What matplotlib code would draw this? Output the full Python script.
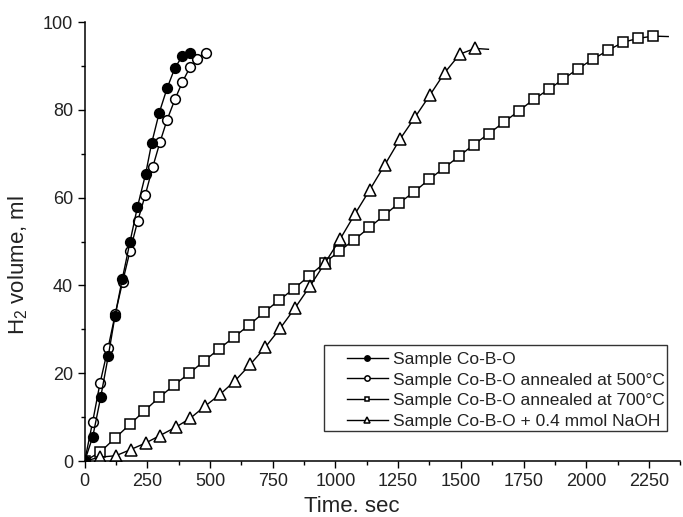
import matplotlib
matplotlib.use("Agg")
import matplotlib.pyplot as plt
from matplotlib.ticker import MultipleLocator
from matplotlib.patches import Rectangle

plt.rcParams['font.family'] = ['Liberation Sans', 'DejaVu Sans']
plt.rcParams['mathtext.fontset'] = 'custom'
plt.rcParams['mathtext.rm'] = 'Liberation Sans'
plt.rcParams['mathtext.it'] = 'Liberation Sans:italic'

# Sample Co-B-O (filled circles)
t_cobo = [0, 32, 64, 94, 121, 150, 181, 210, 243, 267, 297, 329, 360, 390, 420]
v_cobo = [0, 5.5, 14.6, 23.9, 33.1, 41.5, 50.0, 57.8, 65.4, 72.4, 79.3, 85.0, 89.6, 92.3, 93.0]

# annealed at 500 C (open circles), last point is the line tail only
t_500 = [0, 32, 61, 93, 122, 151, 181, 211, 242, 271, 300, 329, 360, 390, 420, 449, 482, 502]
v_500 = [0, 9.0, 17.7, 25.7, 33.5, 40.8, 47.9, 54.6, 60.7, 66.9, 72.6, 77.8, 82.4, 86.4, 89.7, 91.7, 92.9, 93.0]

# annealed at 700 C (squares), last point is the line tail only
t_700 = [0, 61, 121, 181, 238, 297, 357, 417, 477, 537, 597, 656, 716, 776, 836, 895, 958,
         1015, 1075, 1135, 1195, 1254, 1314, 1374, 1434, 1494, 1552, 1612, 1672, 1732, 1791,
         1851, 1908, 1968, 2028, 2088, 2147, 2207, 2267, 2327]
v_700 = [0, 2.0, 5.2, 8.4, 11.4, 14.5, 17.3, 20.0, 22.8, 25.6, 28.3, 31.0, 33.9, 36.7, 39.3,
         42.2, 45.2, 47.8, 50.4, 53.2, 56.0, 58.8, 61.3, 64.2, 66.8, 69.5, 72.1, 74.6, 77.2,
         79.8, 82.4, 84.7, 87.0, 89.4, 91.6, 93.6, 95.4, 96.3, 96.8, 96.7]

# + 0.4 mmol NaOH (triangles), last point is the line tail only
t_naoh = [0, 63, 124, 183, 243, 300, 363, 420, 480, 540, 600, 660, 720, 779, 838, 898, 958,
          1018, 1078, 1137, 1197, 1257, 1317, 1377, 1436, 1496, 1556, 1610]
v_naoh = [0, 0.9, 1.2, 2.6, 4.1, 5.8, 7.7, 9.7, 12.5, 15.2, 18.3, 22.0, 25.9, 30.2, 34.8,
          39.8, 45.1, 50.5, 56.3, 61.8, 67.5, 73.3, 78.3, 83.4, 88.5, 92.7, 94.0, 93.8]

labels = ["Sample Co-B-O",
          "Sample Co-B-O annealed at 500\u00b0C",
          "Sample Co-B-O annealed at 700\u00b0C",
          "Sample Co-B-O + 0.4 mmol NaOH"]

fig = plt.figure(figsize=(6.83, 5.17), dpi=100)
ax = fig.add_axes([0.124, 0.1083, 0.872, 0.849])

lw = 1.0
mew = 1.1
ax.plot(t_cobo, v_cobo, '-o', color='black', mfc='black', ms=7, lw=lw, mew=mew,
        label=labels[0], zorder=4)
ax.plot(t_500, v_500, '-o', color='black', mfc='white', ms=7, lw=lw, mew=mew,
        markevery=list(range(len(t_500) - 1)), label=labels[1], zorder=3)
ax.plot(t_700, v_700, '-s', color='black', mfc='white', ms=6.5, lw=lw, mew=mew,
        markevery=list(range(len(t_700) - 1)), label=labels[2], zorder=2)
ax.plot(t_naoh, v_naoh, '-^', color='black', mfc='white', ms=8, lw=lw, mew=mew,
        markevery=list(range(len(t_naoh) - 1)), label=labels[3], zorder=2)

ax.set_xlim(0, 2375)
ax.set_ylim(0, 100)
ax.xaxis.set_major_locator(MultipleLocator(250))
ax.xaxis.set_minor_locator(MultipleLocator(125))
ax.yaxis.set_major_locator(MultipleLocator(20))
ax.yaxis.set_minor_locator(MultipleLocator(10))
ax.tick_params(which='major', direction='out', length=5, width=1, labelsize=13,
               labelcolor='#222222')
ax.tick_params(which='minor', direction='out', length=3, width=1)

ax.spines['top'].set_visible(False)
ax.spines['right'].set_visible(False)
ax.spines['left'].set_linewidth(1.1)
ax.spines['bottom'].set_linewidth(1.1)
for s in ax.spines.values():
    s.set_zorder(5)

ax.set_xlabel("Time. sec", fontsize=16, color='#222222')
ax.set_ylabel("H$_2$ volume, ml", fontsize=16, color='#222222')
ax.xaxis.set_label_coords(0.449, -0.08)
ax.yaxis.set_label_coords(-0.092, 0.446)

# legend frame drawn separately so the padding matches the original box
box = Rectangle((0.4017, 0.0683), 0.5758, 0.1959, transform=ax.transAxes,
                facecolor='white', edgecolor='#333333', lw=1.0, zorder=6)
ax.add_patch(box)
leg = ax.legend(loc='upper left', bbox_to_anchor=(0.4403, 0.249), borderaxespad=0,
                fontsize=12.5, markerscale=0.55, handlelength=2.36, handletextpad=0.3,
                labelspacing=0.32, borderpad=0, frameon=False)
leg.set_zorder(7)
for txt in leg.get_texts():
    txt.set_color('#222222')

fig.savefig("out.png", dpi=100)
